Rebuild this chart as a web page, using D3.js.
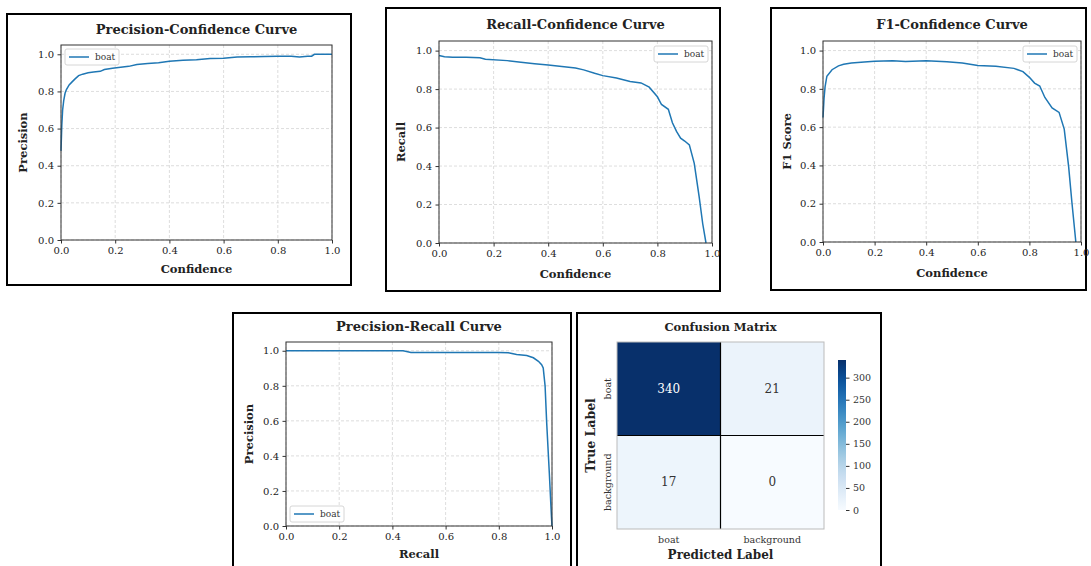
<!DOCTYPE html>
<html>
<head>
<meta charset="utf-8">
<title>boat detection curves</title>
<style>
  body { margin: 0; background: #fff; }
  svg text { font-family: "DejaVu Serif", serif; fill: #222; }
</style>
</head>
<body>
<div class="plot_container"></div>
<script src="https://cdn.jsdelivr.net/npm/d3@7/dist/d3.min.js"></script>
<script>
var className = "boat";
var axisTicks = [0, 0.2, 0.4, 0.6, 0.8, 1.0];

// precision vs confidence
var pcConf = [0, 0.003, 0.006, 0.01, 0.015, 0.02, 0.03, 0.04, 0.05, 0.065, 0.08, 0.1, 0.12, 0.145, 0.16, 0.19, 0.22, 0.25, 0.28, 0.32, 0.36, 0.4, 0.45, 0.5, 0.55, 0.6, 0.65, 0.7, 0.75, 0.8, 0.85, 0.88, 0.91, 0.925, 0.935, 1.0];
var pcPrec = [0.48, 0.62, 0.70, 0.75, 0.79, 0.81, 0.835, 0.85, 0.865, 0.885, 0.893, 0.90, 0.905, 0.908, 0.918, 0.925, 0.93, 0.935, 0.945, 0.95, 0.955, 0.962, 0.968, 0.97, 0.977, 0.978, 0.985, 0.987, 0.988, 0.99, 0.99, 0.985, 0.99, 0.99, 1.0, 1.0];

// recall vs confidence
var rcConf = [0, 0.02, 0.05, 0.1, 0.15, 0.17, 0.25, 0.3, 0.35, 0.4, 0.45, 0.5, 0.53, 0.57, 0.6, 0.65, 0.7, 0.74, 0.77, 0.8, 0.815, 0.84, 0.855, 0.87, 0.885, 0.9, 0.917, 0.935, 0.953, 0.966, 0.978];
var rcRecall = [0.975, 0.968, 0.965, 0.965, 0.963, 0.955, 0.948, 0.94, 0.932, 0.925, 0.918, 0.91, 0.9, 0.882, 0.87, 0.858, 0.84, 0.832, 0.81, 0.76, 0.72, 0.695, 0.625, 0.58, 0.545, 0.53, 0.51, 0.414, 0.24, 0.10, 0];

// f1 vs confidence
var f1Conf = [0, 0.004, 0.008, 0.015, 0.035, 0.06, 0.08, 0.11, 0.16, 0.2, 0.27, 0.32, 0.4, 0.48, 0.54, 0.6, 0.67, 0.74, 0.775, 0.8, 0.82, 0.84, 0.86, 0.888, 0.915, 0.935, 0.952, 0.965, 0.98];
var f1Score = [0.65, 0.75, 0.81, 0.866, 0.90, 0.92, 0.928, 0.935, 0.94, 0.944, 0.947, 0.943, 0.947, 0.941, 0.935, 0.922, 0.918, 0.907, 0.89, 0.86, 0.83, 0.815, 0.755, 0.70, 0.677, 0.59, 0.395, 0.204, 0];

// precision vs recall
var prRecall = [0, 0.1, 0.2, 0.3, 0.44, 0.47, 0.6, 0.7, 0.8, 0.836, 0.867, 0.905, 0.93, 0.949, 0.961, 0.967, 0.974, 0.98, 0.99, 0.998, 1.0];
var prPrec = [1, 1, 1, 1, 1, 0.99, 0.99, 0.99, 0.99, 0.988, 0.979, 0.973, 0.96, 0.94, 0.92, 0.902, 0.80, 0.59, 0.30, 0.05, 0];

// confusion matrix
var cmLabels = ["boat", "background"];
var cmValues = [[340, 21], [17, 0]];
var cbTicks = [0, 50, 100, 150, 200, 250, 300];

var svg = d3.select(".plot_container").append("svg")
    .attr("width", 1091)
    .attr("height", 566);

function panelBox(x0, y0, x1, y1) {
    svg.append("rect")
        .attr("x", x0).attr("y", y0)
        .attr("width", x1 - x0).attr("height", y1 - y0)
        .style("fill", "none")
        .style("stroke", "black")
        .style("stroke-width", 2);
}

function curvePanel(o, xs, ys) {
    var g = svg.append("g");
    var x = d3.scaleLinear().domain([0, 1]).range([o.left, o.right]);
    var y = d3.scaleLinear().domain([0, 1.05]).range([o.bottom, o.top]);

    // dashed grid
    g.selectAll(".gx").data(axisTicks).enter().append("line")
        .attr("x1", function(d){ return x(d); }).attr("x2", function(d){ return x(d); })
        .attr("y1", o.top).attr("y2", o.bottom)
        .style("stroke", "#d4d4d4").style("stroke-width", 0.8).style("stroke-dasharray", "3,2");
    g.selectAll(".gy").data(axisTicks).enter().append("line")
        .attr("x1", o.left).attr("x2", o.right)
        .attr("y1", function(d){ return y(d); }).attr("y2", function(d){ return y(d); })
        .style("stroke", "#d4d4d4").style("stroke-width", 0.8).style("stroke-dasharray", "3,2");

    var line = d3.line()
        .x(function(d){ return x(d[0]); })
        .y(function(d){ return y(d[1]); });
    g.append("path")
        .datum(d3.zip(xs, ys))
        .attr("d", line)
        .style("fill", "none")
        .style("stroke", "#1f77b4")
        .style("stroke-width", 1.5);

    var fmt = d3.format(".1f");
    var xa = g.append("g").attr("transform", "translate(0," + o.bottom + ")")
        .call(d3.axisBottom(x).tickValues(axisTicks).tickFormat(fmt).tickSize(3.5).tickPadding(3.5));
    var ya = g.append("g").attr("transform", "translate(" + o.left + ",0)")
        .call(d3.axisLeft(y).tickValues(axisTicks).tickFormat(fmt).tickSize(3.5).tickPadding(3.5));
    [xa, ya].forEach(function(a){
        a.select(".domain").remove();
        a.selectAll("line").style("stroke", "#333");
        a.selectAll("text").style("font-family", "DejaVu Serif").style("font-size", "10px").style("fill", "#222");
    });

    g.append("rect")
        .attr("x", o.left).attr("y", o.top)
        .attr("width", o.right - o.left).attr("height", o.bottom - o.top)
        .style("fill", "none").style("stroke", "#333").style("stroke-width", 1);

    g.append("text")
        .attr("x", (o.left + o.right) / 2).attr("y", o.titleY)
        .attr("text-anchor", "middle")
        .style("font-size", "13px").style("font-weight", "bold")
        .text(o.title);
    g.append("text")
        .attr("x", (o.left + o.right) / 2).attr("y", o.xLabelY)
        .attr("text-anchor", "middle")
        .style("font-size", "11.5px").style("font-weight", "bold")
        .text(o.xLabel);
    g.append("text")
        .attr("transform", "translate(" + o.yLabelX + "," + (o.top + o.bottom) / 2 + ") rotate(-90)")
        .attr("text-anchor", "middle")
        .style("font-size", "11.5px").style("font-weight", "bold")
        .text(o.yLabel);

    // legend
    var lw = 54, lh = 16;
    var lx, ly;
    if (o.legend == "upper left") { lx = o.left + 4; ly = o.top + 4; }
    else if (o.legend == "upper right") { lx = o.right - 4 - lw; ly = o.top + 5; }
    else { lx = o.left + 4; ly = o.bottom - 4 - lh; }
    var lg = g.append("g").attr("transform", "translate(" + lx + "," + ly + ")");
    lg.append("rect").attr("width", lw).attr("height", lh).attr("rx", 2)
        .style("fill", "white").style("fill-opacity", 0.85)
        .style("stroke", "#ccc").style("stroke-width", 0.8);
    lg.append("line").attr("x1", 4).attr("x2", 24).attr("y1", lh / 2).attr("y2", lh / 2)
        .style("stroke", "#1f77b4").style("stroke-width", 1.5);
    lg.append("text").attr("x", 30).attr("y", lh / 2).attr("dy", "0.35em")
        .style("font-size", "9px").style("fill", "#333")
        .text(className);
}

// top row
panelBox(7, 14, 351, 285);
curvePanel({left: 61, right: 332, top: 45, bottom: 240, titleY: 34, xLabelY: 273, yLabelX: 27,
    title: "Precision-Confidence Curve", xLabel: "Confidence", yLabel: "Precision", legend: "upper left"}, pcConf, pcPrec);

panelBox(386, 8, 720, 291);
curvePanel({left: 439, right: 712, top: 41, bottom: 243, titleY: 29, xLabelY: 278, yLabelX: 405,
    title: "Recall-Confidence Curve", xLabel: "Confidence", yLabel: "Recall", legend: "upper right"}, rcConf, rcRecall);

panelBox(771, 8, 1086, 290);
curvePanel({left: 823, right: 1081, top: 41, bottom: 242, titleY: 29, xLabelY: 277, yLabelX: 791,
    title: "F1-Confidence Curve", xLabel: "Confidence", yLabel: "F1 Score", legend: "upper right"}, f1Conf, f1Score);

// bottom row
panelBox(233, 313, 571, 572);
curvePanel({left: 286, right: 552, top: 342, bottom: 526, titleY: 331, xLabelY: 558, yLabelX: 253,
    title: "Precision-Recall Curve", xLabel: "Recall", yLabel: "Precision", legend: "lower left"}, prRecall, prPrec);

panelBox(577, 313, 881, 572);

// confusion matrix heatmap
var hm = svg.append("g");
var hx = d3.scaleBand().domain(cmLabels).range([617, 824]);
var hy = d3.scaleBand().domain(cmLabels).range([342, 529]);
var color = d3.scaleSequential(d3.interpolateBlues).domain([0, 340]);

var cells = [];
cmValues.forEach(function(row, i){
    row.forEach(function(v, j){
        cells.push({t: cmLabels[i], p: cmLabels[j], v: v});
    });
});

hm.selectAll(".cell").data(cells).enter().append("rect")
    .attr("class", "cell")
    .attr("x", function(d){ return hx(d.p); })
    .attr("y", function(d){ return hy(d.t); })
    .attr("width", hx.bandwidth())
    .attr("height", hy.bandwidth())
    .style("fill", function(d){ return color(d.v); });

// separators
hm.append("line").attr("x1", hx("background")).attr("x2", hx("background")).attr("y1", 342).attr("y2", 529)
    .style("stroke", "black").style("stroke-width", 1.2);
hm.append("line").attr("x1", 617).attr("x2", 824).attr("y1", hy("background")).attr("y2", hy("background"))
    .style("stroke", "black").style("stroke-width", 1.2);
hm.append("rect").attr("x", 617).attr("y", 342).attr("width", 207).attr("height", 187)
    .style("fill", "none").style("stroke", "#bbb").style("stroke-width", 1);

hm.selectAll(".val").data(cells).enter().append("text")
    .attr("x", function(d){ return hx(d.p) + hx.bandwidth() / 2; })
    .attr("y", function(d){ return hy(d.t) + hy.bandwidth() / 2; })
    .attr("dy", "0.35em")
    .attr("text-anchor", "middle")
    .style("font-size", "12px")
    .style("fill", function(d){ return d.v > 170 ? "white" : "#333"; })
    .text(function(d){ return d.v; });

hm.selectAll(".xl").data(cmLabels).enter().append("text")
    .attr("x", function(d){ return hx(d) + hx.bandwidth() / 2; })
    .attr("y", 536).attr("dy", "0.71em")
    .attr("text-anchor", "middle")
    .style("font-size", "9.5px").style("fill", "#333")
    .text(function(d){ return d; });
hm.selectAll(".yl").data(cmLabels).enter().append("text")
    .attr("transform", function(d){ return "translate(611," + (hy(d) + hy.bandwidth() / 2) + ") rotate(-90)"; })
    .attr("text-anchor", "middle")
    .style("font-size", "9.5px").style("fill", "#333")
    .text(function(d){ return d; });

hm.append("text").attr("x", 720.5).attr("y", 331).attr("text-anchor", "middle")
    .style("font-size", "11.5px").style("font-weight", "bold").text("Confusion Matrix");
hm.append("text").attr("x", 720.5).attr("y", 559).attr("text-anchor", "middle")
    .style("font-size", "12px").style("font-weight", "bold").text("Predicted Label");
hm.append("text").attr("transform", "translate(595,435.5) rotate(-90)").attr("text-anchor", "middle")
    .style("font-size", "12.5px").style("font-weight", "bold").text("True Label");

// colorbar
var defs = svg.append("defs");
var grad = defs.append("linearGradient").attr("id", "cbgrad")
    .attr("x1", 0).attr("y1", 1).attr("x2", 0).attr("y2", 0);
grad.selectAll("stop").data(d3.range(0, 1.0001, 0.05)).enter().append("stop")
    .attr("offset", function(d){ return d; })
    .attr("stop-color", function(d){ return d3.interpolateBlues(d); });
var cy = d3.scaleLinear().domain([0, 340]).range([510, 360]);
svg.append("rect").attr("x", 838).attr("y", 360).attr("width", 8).attr("height", 150)
    .style("fill", "url(#cbgrad)");
var cbAxis = svg.append("g").attr("transform", "translate(846,0)")
    .call(d3.axisRight(cy).tickValues(cbTicks).tickSize(3.5).tickPadding(3.5));
cbAxis.select(".domain").remove();
cbAxis.selectAll("line").style("stroke", "#333");
cbAxis.selectAll("text").style("font-family", "DejaVu Serif").style("font-size", "9.5px").style("fill", "#333");
</script>
</body>
</html>
